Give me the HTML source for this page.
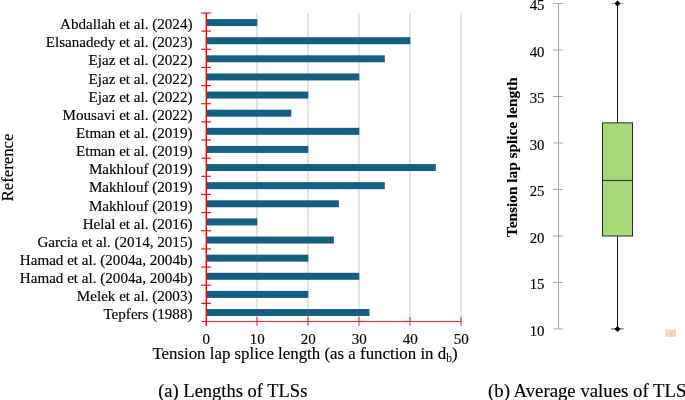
<!DOCTYPE html>
<html><head><meta charset="utf-8"><title>TLS chart</title>
<style>
html,body{margin:0;padding:0;background:#fff;}
body{width:685px;height:400px;overflow:hidden;position:relative;font-family:"Liberation Serif",serif;}
svg{position:absolute;left:0;top:0;display:block;will-change:transform;}
text{font-family:"Liberation Serif",serif;fill:#000;stroke:#000;stroke-width:0.15px;}
</style></head><body>
<svg width="685" height="400" viewBox="0 0 685 400">
<rect x="0" y="0" width="685" height="400" fill="#ffffff"/>

<line x1="256.90" y1="13.0" x2="256.90" y2="321.5" stroke="#dcdcdc" stroke-width="1.5"/>
<line x1="307.90" y1="13.0" x2="307.90" y2="321.5" stroke="#dcdcdc" stroke-width="1.5"/>
<line x1="358.90" y1="13.0" x2="358.90" y2="321.5" stroke="#dcdcdc" stroke-width="1.5"/>
<line x1="409.90" y1="13.0" x2="409.90" y2="321.5" stroke="#dcdcdc" stroke-width="1.5"/>
<line x1="460.90" y1="13.0" x2="460.90" y2="321.5" stroke="#dcdcdc" stroke-width="1.5"/>
<rect x="206.90" y="19.07" width="50.40" height="7.0" fill="#156082"/>
<rect x="206.90" y="37.20" width="203.40" height="7.0" fill="#156082"/>
<rect x="206.90" y="55.32" width="177.90" height="7.0" fill="#156082"/>
<rect x="206.90" y="73.44" width="152.40" height="7.0" fill="#156082"/>
<rect x="206.90" y="91.56" width="101.40" height="7.0" fill="#156082"/>
<rect x="206.90" y="109.68" width="84.42" height="7.0" fill="#156082"/>
<rect x="206.90" y="127.81" width="152.40" height="7.0" fill="#156082"/>
<rect x="206.90" y="145.93" width="101.40" height="7.0" fill="#156082"/>
<rect x="206.90" y="164.05" width="228.90" height="7.0" fill="#156082"/>
<rect x="206.90" y="182.17" width="177.90" height="7.0" fill="#156082"/>
<rect x="206.90" y="200.29" width="132.00" height="7.0" fill="#156082"/>
<rect x="206.90" y="218.42" width="50.40" height="7.0" fill="#156082"/>
<rect x="206.90" y="236.54" width="126.90" height="7.0" fill="#156082"/>
<rect x="206.90" y="254.66" width="101.40" height="7.0" fill="#156082"/>
<rect x="206.90" y="272.78" width="152.40" height="7.0" fill="#156082"/>
<rect x="206.90" y="290.90" width="101.40" height="7.0" fill="#156082"/>
<rect x="206.90" y="309.03" width="162.60" height="7.0" fill="#156082"/>
<line x1="206.3" y1="13.0" x2="206.3" y2="325.9" stroke="#ff0000" stroke-width="1.4"/>
<line x1="201.3" y1="321.5" x2="461.29999999999995" y2="321.5" stroke="#ff0000" stroke-width="0.85"/>
<line x1="201.20000000000002" y1="13.00" x2="211.0" y2="13.00" stroke="#ff0000" stroke-width="1.15"/>
<line x1="201.20000000000002" y1="31.15" x2="211.0" y2="31.15" stroke="#ff0000" stroke-width="1.15"/>
<line x1="201.20000000000002" y1="49.29" x2="211.0" y2="49.29" stroke="#ff0000" stroke-width="1.15"/>
<line x1="201.20000000000002" y1="67.44" x2="211.0" y2="67.44" stroke="#ff0000" stroke-width="1.15"/>
<line x1="201.20000000000002" y1="85.59" x2="211.0" y2="85.59" stroke="#ff0000" stroke-width="1.15"/>
<line x1="201.20000000000002" y1="103.74" x2="211.0" y2="103.74" stroke="#ff0000" stroke-width="1.15"/>
<line x1="201.20000000000002" y1="121.88" x2="211.0" y2="121.88" stroke="#ff0000" stroke-width="1.15"/>
<line x1="201.20000000000002" y1="140.03" x2="211.0" y2="140.03" stroke="#ff0000" stroke-width="1.15"/>
<line x1="201.20000000000002" y1="158.18" x2="211.0" y2="158.18" stroke="#ff0000" stroke-width="1.15"/>
<line x1="201.20000000000002" y1="176.32" x2="211.0" y2="176.32" stroke="#ff0000" stroke-width="1.15"/>
<line x1="201.20000000000002" y1="194.47" x2="211.0" y2="194.47" stroke="#ff0000" stroke-width="1.15"/>
<line x1="201.20000000000002" y1="212.62" x2="211.0" y2="212.62" stroke="#ff0000" stroke-width="1.15"/>
<line x1="201.20000000000002" y1="230.76" x2="211.0" y2="230.76" stroke="#ff0000" stroke-width="1.15"/>
<line x1="201.20000000000002" y1="248.91" x2="211.0" y2="248.91" stroke="#ff0000" stroke-width="1.15"/>
<line x1="201.20000000000002" y1="267.06" x2="211.0" y2="267.06" stroke="#ff0000" stroke-width="1.15"/>
<line x1="201.20000000000002" y1="285.21" x2="211.0" y2="285.21" stroke="#ff0000" stroke-width="1.15"/>
<line x1="201.20000000000002" y1="303.35" x2="211.0" y2="303.35" stroke="#ff0000" stroke-width="1.15"/>
<line x1="257.00" y1="317.0" x2="257.00" y2="325.9" stroke="#ff0000" stroke-width="0.9"/>
<line x1="308.00" y1="317.0" x2="308.00" y2="325.9" stroke="#ff0000" stroke-width="0.9"/>
<line x1="359.00" y1="317.0" x2="359.00" y2="325.9" stroke="#ff0000" stroke-width="0.9"/>
<line x1="410.00" y1="317.0" x2="410.00" y2="325.9" stroke="#ff0000" stroke-width="0.9"/>
<line x1="461.00" y1="317.0" x2="461.00" y2="325.9" stroke="#ff0000" stroke-width="0.9"/>
<text x="192.5" y="29.07" font-size="15.1" text-anchor="end">Abdallah et al. (2024)</text>
<text x="192.5" y="47.22" font-size="15.1" text-anchor="end">Elsanadedy et al. (2023)</text>
<text x="192.5" y="65.37" font-size="15.1" text-anchor="end">Ejaz et al. (2022)</text>
<text x="192.5" y="83.51" font-size="15.1" text-anchor="end">Ejaz et al. (2022)</text>
<text x="192.5" y="101.66" font-size="15.1" text-anchor="end">Ejaz et al. (2022)</text>
<text x="192.5" y="119.81" font-size="15.1" text-anchor="end">Mousavi et al. (2022)</text>
<text x="192.5" y="137.96" font-size="15.1" text-anchor="end">Etman et al. (2019)</text>
<text x="192.5" y="156.10" font-size="15.1" text-anchor="end">Etman et al. (2019)</text>
<text x="192.5" y="174.25" font-size="15.1" text-anchor="end">Makhlouf (2019)</text>
<text x="192.5" y="192.40" font-size="15.1" text-anchor="end">Makhlouf (2019)</text>
<text x="192.5" y="210.54" font-size="15.1" text-anchor="end">Makhlouf (2019)</text>
<text x="192.5" y="228.69" font-size="15.1" text-anchor="end">Helal et al. (2016)</text>
<text x="192.5" y="246.84" font-size="15.1" text-anchor="end">Garcia et al. (2014, 2015)</text>
<text x="192.5" y="264.99" font-size="15.1" text-anchor="end">Hamad et al. (2004a, 2004b)</text>
<text x="192.5" y="283.13" font-size="15.1" text-anchor="end">Hamad et al. (2004a, 2004b)</text>
<text x="192.5" y="301.28" font-size="15.1" text-anchor="end">Melek et al. (2003)</text>
<text x="192.5" y="319.43" font-size="15.1" text-anchor="end">Tepfers (1988)</text>
<text x="206.30" y="344.2" font-size="15" text-anchor="middle">0</text>
<text x="257.30" y="344.2" font-size="15" text-anchor="middle">10</text>
<text x="308.30" y="344.2" font-size="15" text-anchor="middle">20</text>
<text x="359.30" y="344.2" font-size="15" text-anchor="middle">30</text>
<text x="410.30" y="344.2" font-size="15" text-anchor="middle">40</text>
<text x="461.30" y="344.2" font-size="15" text-anchor="middle">50</text>
<text x="152.4" y="359.2" font-size="16.86">Tension lap splice length (as a function in d<tspan font-size="11.6" dy="3" stroke-width="0">b</tspan><tspan dy="-3">)</tspan></text>
<text transform="translate(12.9,167.5) rotate(-90)" font-size="16.7" text-anchor="middle">Reference</text>
<text x="158.2" y="396.5" font-size="18.5">(a) Lengths of TLSs</text>
<text x="488" y="396.5" font-size="18.77">(b) Average values of TLS</text>
<line x1="558.5" y1="3.50" x2="558.5" y2="328.90" stroke="#a6a6a6" stroke-width="1"/>
<line x1="553.3" y1="328.90" x2="563.1" y2="328.90" stroke="#a6a6a6" stroke-width="1"/>
<text x="544.5" y="335.80" font-size="14.8" text-anchor="end">10</text>
<line x1="553.3" y1="282.41" x2="563.1" y2="282.41" stroke="#a6a6a6" stroke-width="1"/>
<text x="544.5" y="289.31" font-size="14.8" text-anchor="end">15</text>
<line x1="553.3" y1="235.93" x2="563.1" y2="235.93" stroke="#a6a6a6" stroke-width="1"/>
<text x="544.5" y="242.83" font-size="14.8" text-anchor="end">20</text>
<line x1="553.3" y1="189.44" x2="563.1" y2="189.44" stroke="#a6a6a6" stroke-width="1"/>
<text x="544.5" y="196.34" font-size="14.8" text-anchor="end">25</text>
<line x1="553.3" y1="142.96" x2="563.1" y2="142.96" stroke="#a6a6a6" stroke-width="1"/>
<text x="544.5" y="149.86" font-size="14.8" text-anchor="end">30</text>
<line x1="553.3" y1="96.47" x2="563.1" y2="96.47" stroke="#a6a6a6" stroke-width="1"/>
<text x="544.5" y="103.37" font-size="14.8" text-anchor="end">35</text>
<line x1="553.3" y1="49.99" x2="563.1" y2="49.99" stroke="#a6a6a6" stroke-width="1"/>
<text x="544.5" y="56.89" font-size="14.8" text-anchor="end">40</text>
<line x1="553.3" y1="3.50" x2="563.1" y2="3.50" stroke="#a6a6a6" stroke-width="1"/>
<text x="544.5" y="10.40" font-size="14.8" text-anchor="end">45</text>
<text transform="translate(517.2,157.2) rotate(-90)" font-size="15.3" font-weight="bold" text-anchor="middle">Tension lap splice length</text>
<line x1="617.5" y1="3.50" x2="617.5" y2="328.90" stroke="#1a1a1a" stroke-width="1"/>
<line x1="611.3" y1="3.50" x2="623.7" y2="3.50" stroke="#a6a6a6" stroke-width="1"/>
<line x1="611.3" y1="328.90" x2="623.7" y2="328.90" stroke="#555" stroke-width="1"/>
<rect x="602.5" y="122.85" width="30" height="113.15" fill="#a5d977" stroke="#2b2b2b" stroke-width="1"/>
<line x1="602.5" y1="180.45" x2="632.5" y2="180.45" stroke="#2b2b2b" stroke-width="1"/>
<path d="M614.5 3.50 L617.5 0.50 L620.5 3.50 L617.5 6.50 Z" fill="#000"/>
<path d="M614.5 328.90 L617.5 325.90 L620.5 328.90 L617.5 331.90 Z" fill="#000"/>
<rect x="665" y="329.2" width="11" height="7.6" fill="#fde0d0"/><rect x="666" y="329.6" width="1.2" height="7" fill="#fbcdb3"/><rect x="668" y="331.5" width="1.2" height="5" fill="#fbcdb3"/><rect x="670.2" y="331" width="3.3" height="5.6" fill="#fbc7aa"/><rect x="674.2" y="329.4" width="1.3" height="7.2" fill="#fbc7aa"/>
</svg></body></html>
